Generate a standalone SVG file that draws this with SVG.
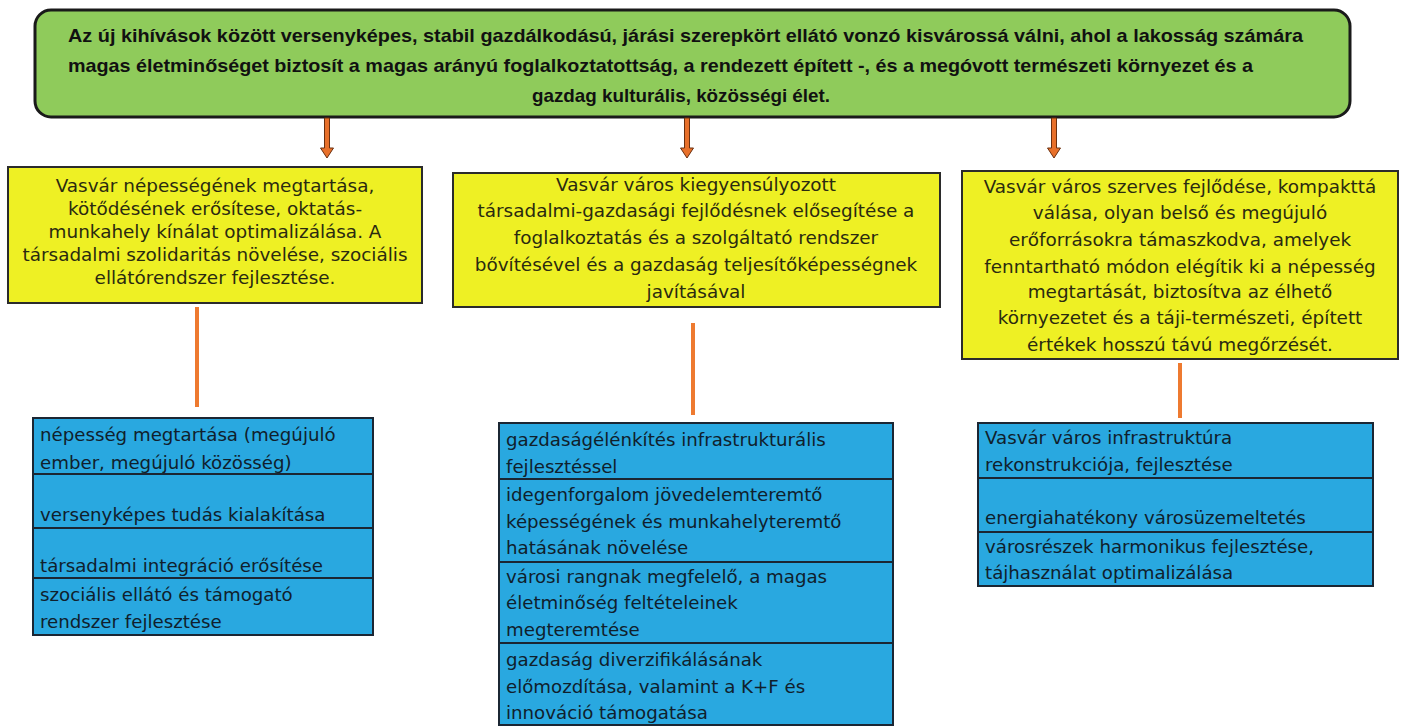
<svg xmlns="http://www.w3.org/2000/svg" width="1403" height="727" viewBox="0 0 1403 727">
<style>
.top{fill:#8FCB5B;stroke:#1a1a1a;stroke-width:3}
.ttx{font-family:"Liberation Sans",Arial,sans-serif;font-weight:bold;font-size:18.5px;fill:#111}
.yel{fill:#EEF024;stroke:#2b2b2b;stroke-width:2}
.ytx{font-family:"DejaVu Sans",Verdana,sans-serif;font-size:18.4px;fill:#2a2a10;text-anchor:middle}
.blu{fill:#29A8E0;stroke:#1b2633;stroke-width:2}
.btx{font-family:"DejaVu Sans",Verdana,sans-serif;font-size:18.2px;fill:#10202c}
.arr{fill:#E8702A;stroke:#6a3010;stroke-width:1}
.ln{stroke:#EE7A30;stroke-width:4;fill:none}
</style>
<rect width="1403" height="727" fill="#ffffff"/>
<g id="goal">
<rect class="top" x="35" y="10" width="1315" height="107" rx="16"/>
<text class="ttx" x="68" y="42" textLength="1235" lengthAdjust="spacingAndGlyphs">Az új kihívások között versenyképes, stabil gazdálkodású, járási szerepkört ellátó vonzó kisvárossá válni, ahol a lakosság számára</text>
<text class="ttx" x="68" y="72" textLength="1185" lengthAdjust="spacingAndGlyphs">magas életminőséget biztosít a magas arányú foglalkoztatottság, a rendezett épített -, és a megóvott természeti környezet és a</text>
<text class="ttx" x="532" y="102" textLength="298" lengthAdjust="spacingAndGlyphs">gazdag kulturális, közösségi élet.</text>
</g>
<g id="connectors">
<path class="arr" d="M324.5,118 h5 v30 h4 l-6.5,10 l-6.5,-10 h4 z"/>
<path class="arr" d="M684.5,118 h5 v30 h4 l-6.5,10 l-6.5,-10 h4 z"/>
<path class="arr" d="M1051.5,118 h5 v30 h4 l-6.5,10 l-6.5,-10 h4 z"/>
<line class="ln" x1="197" y1="307" x2="197" y2="407"/>
<line class="ln" x1="693" y1="323" x2="693" y2="415"/>
<line class="ln" x1="1180" y1="363" x2="1180" y2="418"/>
</g>
<g id="obj1">
<rect class="yel" x="8" y="167" width="414" height="136"/>
<text class="ytx" x="215" y="192">Vasvár népességének megtartása,</text>
<text class="ytx" x="215" y="215">kötődésének erősítese, oktatás-</text>
<text class="ytx" x="215" y="238">munkahely kínálat optimalizálása. A</text>
<text class="ytx" x="215" y="261">társadalmi szolidaritás növelése, szociális</text>
<text class="ytx" x="215" y="284">ellátórendszer fejlesztése.</text>
</g>
<g id="obj2">
<rect class="yel" x="453" y="173" width="487" height="134"/>
<text class="ytx" x="696" y="191">Vasvár város kiegyensúlyozott</text>
<text class="ytx" x="696" y="217">társadalmi-gazdasági fejlődésnek elősegítése a</text>
<text class="ytx" x="696" y="244">foglalkoztatás és a szolgáltató rendszer</text>
<text class="ytx" x="696" y="271">bővítésével és a gazdaság teljesítőképességnek</text>
<text class="ytx" x="696" y="298">javításával</text>
</g>
<g id="obj3">
<rect class="yel" x="962" y="171" width="436" height="188"/>
<text class="ytx" x="1180" y="193">Vasvár város szerves fejlődése, kompakttá</text>
<text class="ytx" x="1180" y="219">válása, olyan belső és megújuló</text>
<text class="ytx" x="1180" y="246">erőforrásokra támaszkodva, amelyek</text>
<text class="ytx" x="1180" y="273">fenntartható módon elégítik ki a népesség</text>
<text class="ytx" x="1180" y="298">megtartását, biztosítva az élhető</text>
<text class="ytx" x="1180" y="324">környezetet és a táji-természeti, épített</text>
<text class="ytx" x="1180" y="351">értékek hosszú távú megőrzését.</text>
</g>
<g id="tasks1">
<rect class="blu" x="33" y="418" width="340" height="56"/>
<rect class="blu" x="33" y="474" width="340" height="54"/>
<rect class="blu" x="33" y="528" width="340" height="50"/>
<rect class="blu" x="33" y="578" width="340" height="57"/>
<text class="btx" x="40" y="441">népesség megtartása (megújuló</text>
<text class="btx" x="40" y="469">ember, megújuló közösség)</text>
<text class="btx" x="40" y="521">versenyképes tudás kialakítása</text>
<text class="btx" x="40" y="572">társadalmi integráció erősítése</text>
<text class="btx" x="40" y="601">szociális ellátó és támogató</text>
<text class="btx" x="40" y="628">rendszer fejlesztése</text>
</g>
<g id="tasks2">
<rect class="blu" x="499" y="423" width="394" height="56"/>
<rect class="blu" x="499" y="479" width="394" height="83"/>
<rect class="blu" x="499" y="562" width="394" height="81"/>
<rect class="blu" x="499" y="643" width="394" height="82"/>
<text class="btx" x="506" y="446">gazdaságélénkítés infrastrukturális</text>
<text class="btx" x="506" y="473">fejlesztéssel</text>
<text class="btx" x="506" y="501">idegenforgalom jövedelemteremtő</text>
<text class="btx" x="506" y="528">képességének és munkahelyteremtő</text>
<text class="btx" x="506" y="554">hatásának növelése</text>
<text class="btx" x="506" y="583">városi rangnak megfelelő, a magas</text>
<text class="btx" x="506" y="609">életminőség feltételeinek</text>
<text class="btx" x="506" y="636">megteremtése</text>
<text class="btx" x="506" y="666">gazdaság diverzifikálásának</text>
<text class="btx" x="506" y="693">előmozdítása, valamint a K+F és</text>
<text class="btx" x="506" y="719">innováció támogatása</text>
</g>
<g id="tasks3">
<rect class="blu" x="978" y="423" width="395" height="55"/>
<rect class="blu" x="978" y="478" width="395" height="54"/>
<rect class="blu" x="978" y="532" width="395" height="54"/>
<text class="btx" x="985" y="444">Vasvár város infrastruktúra</text>
<text class="btx" x="985" y="471">rekonstrukciója, fejlesztése</text>
<text class="btx" x="985" y="524">energiahatékony városüzemeltetés</text>
<text class="btx" x="985" y="553">városrészek harmonikus fejlesztése,</text>
<text class="btx" x="985" y="579">tájhasználat optimalizálása</text>
</g>
</svg>
